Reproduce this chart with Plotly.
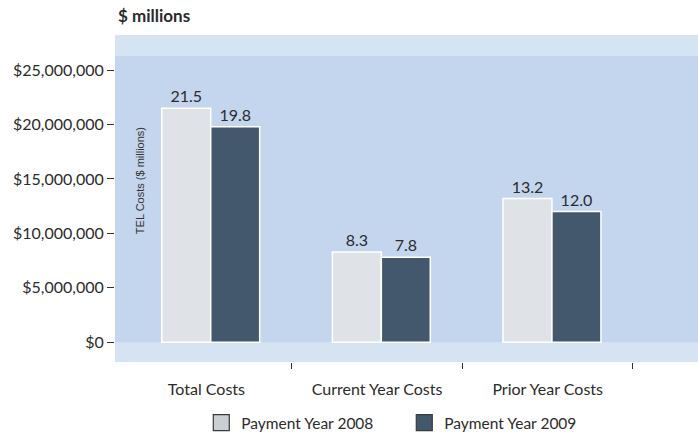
import plotly.graph_objects as go

# Data (values in $ millions)
categories = ["Total Costs", "Current Year Costs", "Prior Year Costs"]
series_names = ["Payment Year 2008", "Payment Year 2009"]
costs_2008 = [21.5, 8.3, 13.2]
costs_2009 = [19.8, 7.8, 12.0]
y_tick_values = [0, 5_000_000, 10_000_000, 15_000_000, 20_000_000, 25_000_000]
y_tick_labels = [f"${v:,}" for v in y_tick_values]

bar_colors = ["#dfe3e7", "#43586d"]
legend_colors = ["#c9cfd5", "#43586d"]
FONT = "Lato"
TEXT = "#2b2b2b"

x_pos = list(range(len(categories)))

fig = go.Figure()
for name, vals, col in zip(series_names, [costs_2008, costs_2009], bar_colors):
    fig.add_trace(go.Bar(
        x=x_pos,
        y=[v * 1_000_000 for v in vals],
        text=[f"{v:.1f}" for v in vals],
        textposition="outside",
        cliponaxis=False,
        textfont=dict(family=FONT, size=16, color=TEXT),
        marker=dict(color=col, line=dict(color="white", width=1.5)),
        name=name,
        showlegend=False,
    ))

# legend swatches with dark outlines
for name, col in zip(series_names, legend_colors):
    fig.add_trace(go.Scatter(
        x=[None], y=[None], mode="markers", name=name,
        marker=dict(symbol="square", size=16, color=col,
                    line=dict(color="#3a3a3a", width=1.2)),
    ))

fig.update_layout(
    width=698, height=433,
    margin=dict(l=115, r=0, t=35, b=71, autoexpand=False),
    paper_bgcolor="white",
    plot_bgcolor="#d6e3f3",
    barmode="group",
    bargap=0.426,
    bargroupgap=0,
    font=dict(family=FONT, size=16, color=TEXT),
    showlegend=True,
    legend=dict(
        orientation="h",
        x=0.148, xanchor="left",
        y=-0.187, yanchor="middle",
        font=dict(family=FONT, size=15.5, color=TEXT),
        entrywidth=158, entrywidthmode="pixels",
        bgcolor="rgba(0,0,0,0)",
    ),
    xaxis=dict(
        range=[-0.561, 2.856],
        tickvals=[i - 0.025 for i in x_pos],
        ticktext=categories,
        ticks="",
        showgrid=False, zeroline=False, showline=False,
        ticklabelstandoff=16,
        tickfont=dict(family=FONT, size=16, color=TEXT),
        minor=dict(
            tickvals=[i + 0.475 for i in x_pos],
            ticks="outside", ticklen=6, tickwidth=1, tickcolor="#333333",
            showgrid=False,
        ),
    ),
    yaxis=dict(
        range=[-1_810_000, 28_220_000],
        tickvals=y_tick_values,
        ticktext=y_tick_labels,
        ticks="outside", ticklen=7, tickwidth=1, tickcolor="#333333",
        showgrid=False, zeroline=False, showline=False,
        tickfont=dict(family=FONT, size=16, color=TEXT),
    ),
    shapes=[dict(
        type="rect", xref="paper", yref="y",
        x0=0, x1=1, y0=0, y1=26_290_000,
        fillcolor="#c3d6ee", line=dict(width=0), layer="below",
    )],
    annotations=[
        dict(text="<b>$ millions</b>", xref="paper", yref="paper",
             x=0.002, y=1.0, xanchor="left", yanchor="bottom", yshift=7,
             showarrow=False, font=dict(family=FONT, size=17, color=TEXT)),
        dict(text="TEL Costs ($ millions)", xref="paper", yref="paper",
             x=0.0429, y=0.553, xanchor="center", yanchor="middle",
             textangle=-90, showarrow=False,
             font=dict(family="Liberation Sans", size=11, color="#333333")),
    ],
)

fig.write_html("out.html")
